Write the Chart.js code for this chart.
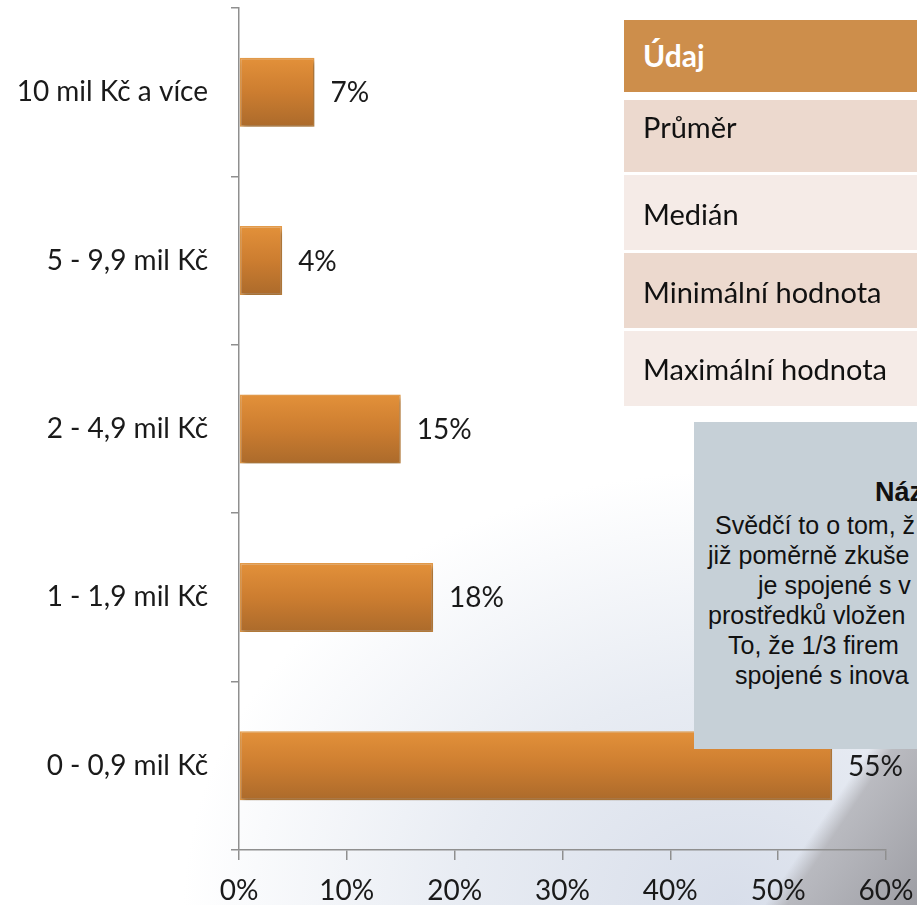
<!DOCTYPE html>
<html>
<head>
<meta charset="utf-8">
<script src="https://cdn.jsdelivr.net/npm/chart.js@4.4.1/dist/chart.umd.min.js"></script>
<style>
  body { margin: 0; width: 917px; height: 905px; overflow: hidden; position: relative;
    background:
      linear-gradient(124deg, rgba(255,255,255,0) 90%, rgba(175,175,180,0.8) 91.5%, rgba(150,150,156,0.9) 100%),
      radial-gradient(ellipse 75% 60% at 80% 100%, #d8deea 0%, #e8ecf3 40%, rgba(255,255,255,0) 80%),
      #ffffff;
  }
  #wrap { position: absolute; left: 0; top: 0; width: 917px; height: 905px; }
  .cell { position: absolute; left: 624px; width: 300px; }
  .cell span { position: absolute; left: 19px; font-family: Lato, sans-serif; font-size: 29px; line-height: 1; color: #111; white-space: nowrap; }
  #note { position: absolute; left: 694px; top: 422px; width: 240px; height: 327px; background: #c6d0d7; overflow: hidden;
    font-family: "Liberation Sans", Arial, sans-serif; color: #111; }
  #note .t { position: absolute; top: 57px; left: 181px; font-weight: bold; font-size: 27px; line-height: 1; white-space: nowrap; }
  #note .lines { position: absolute; top: 88px; left: 0; font-size: 25px; line-height: 30px; white-space: nowrap; }
</style>
</head>
<body>
<div id="wrap"><canvas id="chart" width="917" height="905"></canvas></div>

<div class="cell" style="top:20px;height:72px;background:#cd8e4b;"><span style="top:20px;color:#fff;font-weight:bold;font-size:30px;">Údaj</span></div>
<div class="cell" style="top:100px;height:72px;background:#ecd9ce;"><span style="top:12px;">Průměr</span></div>
<div class="cell" style="top:175px;height:75px;background:#f5ebe7;"><span style="top:24px;">Medián</span></div>
<div class="cell" style="top:253px;height:75px;background:#ecd9ce;"><span style="top:24px;">Minimální hodnota</span></div>
<div class="cell" style="top:331px;height:75px;background:#f5ebe7;"><span style="top:23px;">Maximální hodnota</span></div>

<div id="note">
  <div class="t">Náz</div>
  <div class="lines">
    <div style="margin-left:21px;">Svědčí to o tom, ž</div>
    <div style="margin-left:14px;">již poměrně zkuše</div>
    <div style="margin-left:64px;">je spojené s v</div>
    <div style="margin-left:14px;">prostředků vložen</div>
    <div style="margin-left:34px;">To, že 1/3 firem</div>
    <div style="margin-left:41px;">spojené s inova</div>
  </div>
</div>

<script>
// hodnoty z grafu
const categories = ['10 mil Kč a více', '5 - 9,9 mil Kč', '2 - 4,9 mil Kč', '1 - 1,9 mil Kč', '0 - 0,9 mil Kč'];
const shares = [7, 4, 15, 18, 55];
const xMin = 0;
const xMax = 60;
const xStep = 10;

const labelFont = { family: 'Lato', size: 28 };

// gradient on each bar, top light orange -> bottom brown
const barFill = (c) => {
  const chart = c.chart;
  const ys = chart.scales.y;
  if (!ys || !chart.chartArea || c.dataIndex === undefined) return '#d5822f';
  const cy = ys.getPixelForValue(c.dataIndex);
  if (!isFinite(cy)) return '#d5822f';
  const g = chart.ctx.createLinearGradient(0, cy - 35, 0, cy + 35);
  g.addColorStop(0, '#e3913a');
  g.addColorStop(0.5, '#cc7d30');
  g.addColorStop(1, '#ab6a2b');
  return g;
};

const barExtras = {
  id: 'barExtras',
  beforeDatasetsDraw(chart) {
    const ctx = chart.ctx;
    ctx.save();
    ctx.shadowColor = 'rgba(0,0,0,0.35)';
    ctx.shadowBlur = 5;
    ctx.shadowOffsetX = 2;
    ctx.shadowOffsetY = 3;
  },
  afterDatasetsDraw(chart) {
    const ctx = chart.ctx;
    ctx.restore();
    ctx.save();
    ctx.font = '28px Lato';
    ctx.fillStyle = '#1a1a1a';
    ctx.textBaseline = 'middle';
    ctx.textAlign = 'left';
    chart.getDatasetMeta(0).data.forEach((bar, i) => {
      ctx.fillText(shares[i] + '%', bar.x + 16, bar.y + 1);
    });
    ctx.restore();
  }
};

const config = {
  type: 'bar',
  data: {
    labels: categories,
    datasets: [{
      data: shares,
      backgroundColor: barFill,
      borderColor: '#e59c4a',
      borderWidth: 1.5,
      borderSkipped: false,
      categoryPercentage: 1,
      barPercentage: 0.41
    }]
  },
  options: {
    indexAxis: 'y',
    responsive: false,
    animation: false,
    layout: { padding: { top: 8, right: 31, bottom: 0, left: 0 } },
    plugins: { legend: { display: false }, tooltip: { enabled: false } },
    scales: {
      x: {
        min: xMin,
        max: xMax,
        ticks: { stepSize: xStep, callback: v => v + '%', font: labelFont, color: '#1a1a1a', padding: 14, maxRotation: 0 },
        grid: { drawOnChartArea: false, tickLength: 10, color: '#8f8f8f', lineWidth: 1.5 },
        border: { color: '#8f8f8f', width: 1.5 },
        afterFit: s => { s.height = 55; s.paddingLeft = 0; s.paddingRight = 0; }
      },
      y: {
        ticks: { font: labelFont, color: '#1a1a1a', padding: 23 },
        grid: { drawOnChartArea: false, tickLength: 8, color: '#8f8f8f', lineWidth: 1.5 },
        border: { color: '#8f8f8f', width: 1.5 },
        afterFit: s => { s.width = 239; s.paddingTop = 0; s.paddingBottom = 0; }
      }
    }
  },
  plugins: [barExtras]
};

let Charts = new Chart('chart', config);
Charts.update();
</script>
</body>
</html>
